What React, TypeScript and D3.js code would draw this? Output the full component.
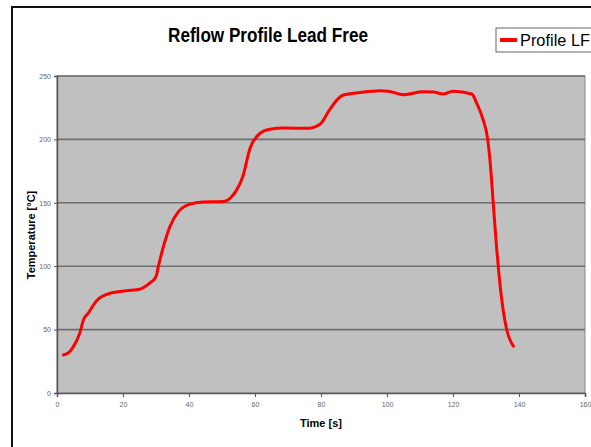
import React, { useEffect, useRef } from 'react';
import * as d3 from 'd3';

const times = [
  1.9, 4, 5.5, 7, 8, 9.5, 12, 16, 21, 25, 28, 30, 30.7, 32.2, 34.2, 36.8, 40.3,
  44.3, 50.4, 53, 54.4, 56.3, 58.5, 61.5, 64.5, 68.6, 75.7, 79.7, 82.4, 84.8,
  86.8, 91.8, 97.9, 100.4, 105, 111, 114, 117, 120, 125.7, 127.2, 129.2, 130.4,
  131.2, 132.2, 133.2, 134, 135.2, 136.3, 138.3,
];
const temps = [
  30, 33, 39, 48, 57.6, 63, 72.8, 78.6, 80.7, 81.8, 86.5, 91.7, 99.6, 115, 131,
  143, 149, 150.6, 151, 155, 160, 170.6, 193, 204.7, 208, 209, 208.7, 212, 222.5,
  231, 235, 237, 238.4, 238, 235.3, 237.6, 237.4, 235.8, 238, 235.8, 228.5, 215,
  202, 183.8, 149.6, 115, 91.7, 65.5, 49.7, 37,
];
const xTicks = [0, 20, 40, 60, 80, 100, 120, 140, 160];
const yTicks = [0, 50, 100, 150, 200, 250];
const seriesName = 'Profile LF';

const W = 591;
const H = 447;
const plot = { left: 57, top: 76, right: 585, bottom: 393 };

export default function App() {
  const gRef = useRef<SVGGElement>(null);

  const x = d3.scaleLinear().domain([0, 160]).range([plot.left, plot.right]);
  const y = d3.scaleLinear().domain([0, 250]).range([plot.bottom, plot.top]);

  useEffect(() => {
    const g = d3.select(gRef.current);
    g.selectAll('*').remove();

    // plot background
    g.append('rect')
      .attr('x', plot.left)
      .attr('y', plot.top)
      .attr('width', plot.right - plot.left)
      .attr('height', plot.bottom - plot.top)
      .attr('fill', '#c0c0c0')
      .attr('stroke', '#888')
      .attr('stroke-width', 1);

    // gridlines
    g.append('g')
      .selectAll('line')
      .data(yTicks.filter((d) => d > 0))
      .join('line')
      .attr('x1', plot.left)
      .attr('x2', plot.right)
      .attr('y1', (d) => y(d))
      .attr('y2', (d) => y(d))
      .attr('stroke', '#6e6e6e')
      .attr('stroke-width', 1.6);

    // y axis
    g.append('g')
      .attr('transform', `translate(${plot.left},0)`)
      .call(d3.axisLeft(y).tickValues(yTicks).tickSize(3).tickPadding(3))
      .call((a) => a.select('.domain').attr('stroke', '#555').attr('stroke-width', 1.5))
      .call((a) => a.selectAll('.tick line').attr('stroke', '#555'))
      .call((a) =>
        a
          .selectAll('.tick text')
          .attr('font-size', 7)
          .attr('fill', '#666')
          .attr('font-family', 'Arial, "Liberation Sans", sans-serif')
      );

    // x axis
    g.append('g')
      .attr('transform', `translate(0,${plot.bottom})`)
      .call(d3.axisBottom(x).tickValues(xTicks).tickSize(4).tickPadding(5))
      .call((a) => a.select('.domain').attr('stroke', '#555').attr('stroke-width', 1.5))
      .call((a) => a.selectAll('.tick line').attr('stroke', '#555'))
      .call((a) =>
        a
          .selectAll('.tick text')
          .attr('font-size', 7)
          .attr('fill', '#666')
          .attr('font-family', 'Arial, "Liberation Sans", sans-serif')
      );

    const pts = times.map((t, i) => [t, temps[i]] as [number, number]);
    const line = d3
      .line<[number, number]>()
      .x((d) => x(d[0]))
      .y((d) => y(d[1]))
      .curve(d3.curveMonotoneX);

    g.append('path')
      .attr('d', line(pts))
      .attr('fill', 'none')
      .attr('stroke', '#ff0000')
      .attr('stroke-width', 3)
      .attr('stroke-linejoin', 'round')
      .attr('stroke-linecap', 'round');
  }, []);

  return (
    <svg
      width={W}
      height={H}
      style={{ position: 'absolute', left: 0, top: 0, background: '#fff' }}
      fontFamily='Arial, "Liberation Sans", sans-serif'
    >
      <rect x={12} y={7} width={W} height={H} fill="#fff" stroke="#111" strokeWidth={2} />
      <text
        x={268}
        y={42}
        textAnchor="middle"
        fontSize={21}
        fontWeight="bold"
        textLength={200}
        lengthAdjust="spacingAndGlyphs"
        fill="#000"
      >
        Reflow Profile Lead Free
      </text>
      <g ref={gRef}></g>
      <text x={321} y={427} textAnchor="middle" fontSize={11} fontWeight="bold">
        Time [s]
      </text>
      <text
        transform="translate(35,235) rotate(-90)"
        textAnchor="middle"
        fontSize={11}
        fontWeight="bold"
      >
        Temperature [°C]
      </text>
      <g>
        <rect x={496} y={28} width={100} height={24} fill="#fff" stroke="#666" strokeWidth={1} />
        <line x1={500} x2={517} y1={40} y2={40} stroke="#ff0000" strokeWidth={4} />
        <text x={520} y={46} fontSize={16} textLength={70} lengthAdjust="spacingAndGlyphs">
          {seriesName}
        </text>
      </g>
    </svg>
  );
}
